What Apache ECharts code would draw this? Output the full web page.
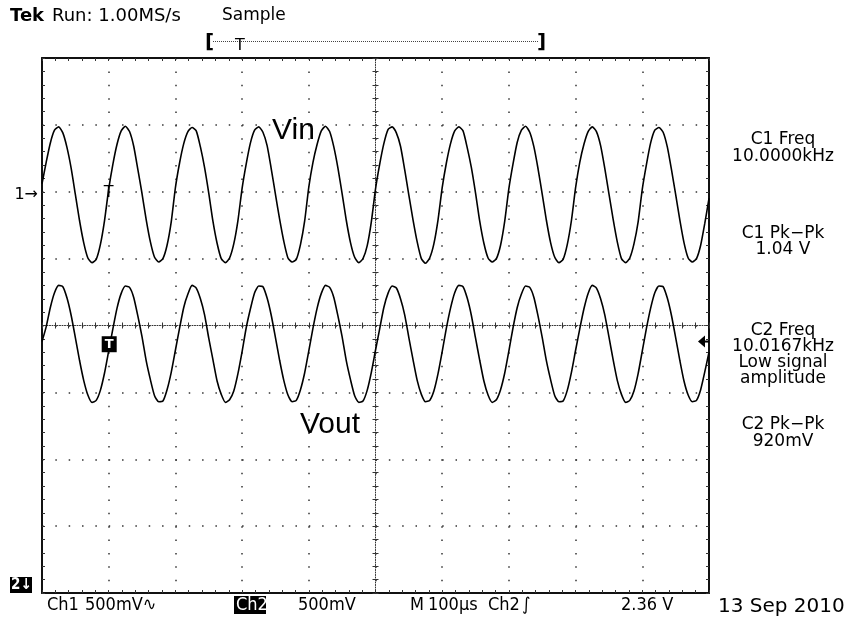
<!DOCTYPE html>
<html>
<head>
<meta charset="utf-8">
<script src="https://cdn.jsdelivr.net/npm/echarts@6/dist/echarts.min.js"></script>
<style>
html, body { margin: 0; padding: 0; background: #fff; }
#scope { width: 856px; height: 618px; }
</style>
</head>
<body>
<div id="scope"></div>
<script>
// samples every 6.25 us (16 per period), values in screen divisions (0 = centre line)
const stepUs = 6.25;
const ch1 = [
  2.12, 2.44, 2.73, 2.92, 2.97, 2.88, 2.66, 2.35, 1.96, 1.57, 1.24, 1.01, 0.94, 0.99, 1.21, 1.57,
  2.04, 2.41, 2.71, 2.91, 2.98, 2.90, 2.68, 2.33, 1.97, 1.58, 1.25, 1.02, 0.95, 1.00, 1.20, 1.55,
  2.06, 2.43, 2.72, 2.90, 2.96, 2.91, 2.67, 2.36, 1.98, 1.56, 1.23, 1.00, 0.94, 1.01, 1.22, 1.57,
  2.05, 2.42, 2.73, 2.92, 2.97, 2.89, 2.69, 2.34, 1.96, 1.59, 1.26, 1.01, 0.95, 0.99, 1.21, 1.56,
  2.07, 2.44, 2.71, 2.91, 2.98, 2.90, 2.67, 2.35, 1.97, 1.57, 1.24, 1.02, 0.94, 1.00, 1.19, 1.55,
  2.04, 2.41, 2.72, 2.93, 2.97, 2.88, 2.68, 2.33, 1.95, 1.58, 1.25, 1.00, 0.93, 1.01, 1.22, 1.58,
  2.06, 2.43, 2.72, 2.91, 2.97, 2.91, 2.66, 2.36, 1.98, 1.56, 1.23, 1.01, 0.95, 1.00, 1.20, 1.56,
  2.05, 2.42, 2.74, 2.92, 2.98, 2.89, 2.67, 2.34, 1.96, 1.57, 1.24, 1.02, 0.94, 0.99, 1.21, 1.57,
  2.06, 2.44, 2.71, 2.90, 2.97, 2.90, 2.69, 2.35, 1.97, 1.59, 1.25, 1.00, 0.94, 1.01, 1.22, 1.55,
  2.04, 2.41, 2.73, 2.92, 2.96, 2.89, 2.67, 2.33, 1.96, 1.58, 1.24, 1.01, 0.95, 1.00, 1.20, 1.53,
  1.90
];
const ch2 = [
  -0.24, -0.02, 0.27, 0.49, 0.60, 0.58, 0.41, 0.15, -0.18, -0.52, -0.82, -1.04, -1.15, -1.12, -0.97, -0.71,
  -0.38, -0.05, 0.26, 0.48, 0.59, 0.57, 0.42, 0.14, -0.17, -0.53, -0.81, -1.05, -1.14, -1.13, -0.96, -0.70,
  -0.37, -0.04, 0.27, 0.47, 0.60, 0.56, 0.40, 0.16, -0.19, -0.51, -0.83, -1.03, -1.15, -1.11, -0.98, -0.72,
  -0.39, -0.03, 0.25, 0.49, 0.59, 0.58, 0.41, 0.15, -0.18, -0.52, -0.82, -1.04, -1.14, -1.12, -0.96, -0.71,
  -0.38, -0.04, 0.26, 0.48, 0.60, 0.57, 0.42, 0.14, -0.17, -0.53, -0.81, -1.05, -1.15, -1.13, -0.97, -0.70,
  -0.37, -0.05, 0.27, 0.48, 0.59, 0.56, 0.40, 0.16, -0.18, -0.51, -0.82, -1.03, -1.14, -1.12, -0.98, -0.72,
  -0.39, -0.04, 0.26, 0.49, 0.60, 0.58, 0.41, 0.15, -0.19, -0.52, -0.83, -1.04, -1.15, -1.11, -0.96, -0.71,
  -0.38, -0.03, 0.27, 0.47, 0.59, 0.57, 0.42, 0.14, -0.18, -0.53, -0.81, -1.05, -1.14, -1.13, -0.97, -0.70,
  -0.37, -0.05, 0.25, 0.48, 0.60, 0.56, 0.40, 0.16, -0.17, -0.51, -0.82, -1.03, -1.15, -1.12, -0.98, -0.72,
  -0.38, -0.04, 0.26, 0.49, 0.59, 0.58, 0.41, 0.15, -0.18, -0.52, -0.83, -1.04, -1.14, -1.12, -0.96, -0.69,
  -0.40
];

// markers
const trigTime = 100;     // us
const ch1Ref = 1.96;      // div, "1->" marker
const ch1TrigV = 2.05;
const ch2TrigV = -0.28;
const trigLevel = -0.24;  // div, right-hand arrow

// readouts
const header = ['Run: 1.00MS/s', 'Sample'];
const meas = [
  ['C1 Freq', 140], ['10.0000kHz', 157],
  ['C1 Pk\u2212Pk', 234], ['1.04 V', 250],
  ['C2 Freq', 331], ['10.0167kHz', 347], ['Low signal', 363], ['amplitude', 379],
  ['C2 Pk\u2212Pk', 425], ['920mV', 442]
];
const footer = [
  ['Ch1', 47], ['500mV\u223F', 85], ['500mV', 298], ['M', 410], ['100\u00B5s', 428],
  ['Ch2', 488], ['\u222B', 522], ['2.36 V', 621]
];

const GX = 42, GY = 58, GW = 667, GH = 535;
const ink = '#111';
const FONT = '"DejaVu Sans", Geneva, sans-serif';
const NARROW = '"DejaVu Sans Condensed", "Liberation Sans Narrow", sans-serif';

const chart = echarts.init(document.getElementById('scope'));

function edgeAxis(pos, grid, isX, split) {
  return {
    type: 'value', gridIndex: grid, position: pos,
    min: isX ? 0 : -4, max: isX ? 1000 : 4, interval: isX ? 100 : 1,
    axisLine: { show: true, onZero: false, lineStyle: { color: ink, width: 2 } },
    axisTick: { show: true, inside: true, length: 3, lineStyle: { color: '#333', width: 1 } },
    minorTick: { show: true, splitNumber: 5, length: 3, lineStyle: { color: '#333', width: 1 } },
    axisLabel: { show: false },
    splitLine: {
      show: split,
      lineStyle: { color: '#333', width: 1.5, type: isX ? [1.5, GH / 40 - 1.5] : [1.5, GW / 50 - 1.5] }
    }
  };
}
function centreAxis(pos, grid, isX, inside, lineOn) {
  return {
    type: 'value', gridIndex: grid, position: pos,
    min: isX ? 0 : -4, max: isX ? 1000 : 4, interval: isX ? 100 : 1,
    axisLine: { show: lineOn, onZero: false, lineStyle: { color: '#333', width: 1, type: [1, 1.5] } },
    axisTick: { show: true, inside: inside, length: 3, lineStyle: { color: '#333', width: 1 } },
    minorTick: { show: true, splitNumber: 5, length: 3, lineStyle: { color: '#333', width: 1 } },
    axisLabel: { show: false },
    splitLine: { show: false }
  };
}
const hidden = (grid) => ({ type: 'value', gridIndex: grid, show: false, min: 0, max: 1, splitLine: { show: false } });

const times = ch1.map((_, i) => i * stepUs);

chart.setOption({
  animation: false,
  backgroundColor: '#fff',
  grid: [
    { left: GX, top: GY, width: GW, height: GH },
    { left: GX, top: GY, width: GW, height: GH / 2 },
    { left: GX, top: GY, width: GW / 2, height: GH }
  ],
  xAxis: [
    edgeAxis('bottom', 0, true, true),
    edgeAxis('top', 0, true, false),
    centreAxis('bottom', 1, true, false, true),
    centreAxis('bottom', 1, true, true, false),
    hidden(2)
  ],
  yAxis: [
    edgeAxis('left', 0, false, true),
    edgeAxis('right', 0, false, false),
    hidden(1),
    centreAxis('right', 2, false, false, true),
    centreAxis('right', 2, false, true, false)
  ],
  series: [
    {
      name: 'Vin', type: 'line', xAxisIndex: 0, yAxisIndex: 0,
      data: times.map((t, i) => [t, ch1[i]]),
      symbol: 'none', smooth: 0.2, silent: true, z: 5,
      lineStyle: { color: '#000', width: 1.6 }
    },
    {
      name: 'Vout', type: 'line', xAxisIndex: 0, yAxisIndex: 0,
      data: times.map((t, i) => [t, ch2[i]]),
      symbol: 'none', smooth: 0.2, silent: true, z: 5,
      lineStyle: { color: '#000', width: 1.6 }
    }
  ]
});

function txt(text, x, y, extra) {
  return {
    type: 'text', x: x, y: y, z: 100, silent: true,
    style: Object.assign({
      text: text, fill: '#000', fontSize: 16, fontFamily: FONT,
      align: 'left', verticalAlign: 'middle'
    }, extra || {})
  };
}

const px = (t, v) => chart.convertToPixel({ gridIndex: 0 }, [t, v]);
const pRef = px(0, ch1Ref);
const pT1 = px(trigTime, ch1TrigV);
const pT2 = px(trigTime, ch2TrigV);
const pLvl = px(1000, trigLevel);

const g = [];
// header
g.push(txt('Tek', 10, 16, { fontWeight: 'bold', fontSize: 18 }));
g.push(txt(header[0], 52, 16, { fontSize: 18 }));
g.push(txt(header[1], 222, 16, { fontSize: 17 }));
g.push(txt('[', 205, 43, { fontSize: 20, fontWeight: 'bold' }));
g.push(txt(']', 537, 43, { fontSize: 20, fontWeight: 'bold' }));
g.push({ type: 'line', z: 100, silent: true, shape: { x1: 213, y1: 41.5, x2: 538, y2: 41.5 },
  style: { stroke: '#444', lineWidth: 1, lineDash: [1, 1] } });
g.push(txt('T', 240, 46, { fontSize: 16, align: 'center' }));
// right readouts
meas.forEach(m => g.push(txt(m[0], 783, m[1], { align: 'center', fontSize: 17 })));
// footer
g.push({ type: 'rect', z: 99, silent: true, shape: { x: 234, y: 596, width: 32, height: 18 }, style: { fill: '#000' } });
footer.forEach(f => g.push(txt(f[0], f[1], 605, { fontSize: 18, fontFamily: NARROW })));
g.push(txt('Ch2', 236, 605, { fontSize: 18, fontFamily: NARROW, fill: '#fff' }));
g.push(txt('13 Sep 2010', 718, 607, { fontSize: 20, fontFamily: FONT }));
// channel markers
g.push(txt('1\u2192', 38, pRef[1], { align: 'right', fontSize: 16 }));
g.push({ type: 'rect', z: 99, silent: true, shape: { x: 10, y: 577, width: 22, height: 16 }, style: { fill: '#000' } });
g.push(txt('2\u2193', 11, 585, { fontSize: 15, fill: '#fff', fontWeight: 'bold', fontFamily: NARROW }));
// trigger marks
g.push(txt('T', pT1[0], pT1[1] + 4, { align: 'center', fontSize: 16 }));
g.push({ type: 'rect', z: 99, silent: true, shape: { x: pT2[0] - 7, y: pT2[1] - 8, width: 15, height: 16 }, style: { fill: '#000' } });
g.push(txt('T', pT2[0] + 0.5, pT2[1], { align: 'center', fontSize: 13, fill: '#fff', fontWeight: 'bold' }));
g.push({ type: 'polygon', z: 100, silent: true,
  shape: { points: [[pLvl[0] - 11, pLvl[1]], [pLvl[0] - 4, pLvl[1] - 6], [pLvl[0] - 4, pLvl[1] + 6]] },
  style: { fill: '#000' } });
g.push({ type: 'line', z: 100, silent: true, shape: { x1: pLvl[0] - 5, y1: pLvl[1], x2: pLvl[0], y2: pLvl[1] },
  style: { stroke: '#000', lineWidth: 2 } });
// trace labels
g.push(txt('Vin', 272, 131, { fontSize: 30, fontFamily: '"Liberation Sans", Arial, sans-serif' }));
g.push(txt('Vout', 300, 425, { fontSize: 30, fontFamily: '"Liberation Sans", Arial, sans-serif' }));

chart.setOption({ graphic: g });
</script>
</body>
</html>
